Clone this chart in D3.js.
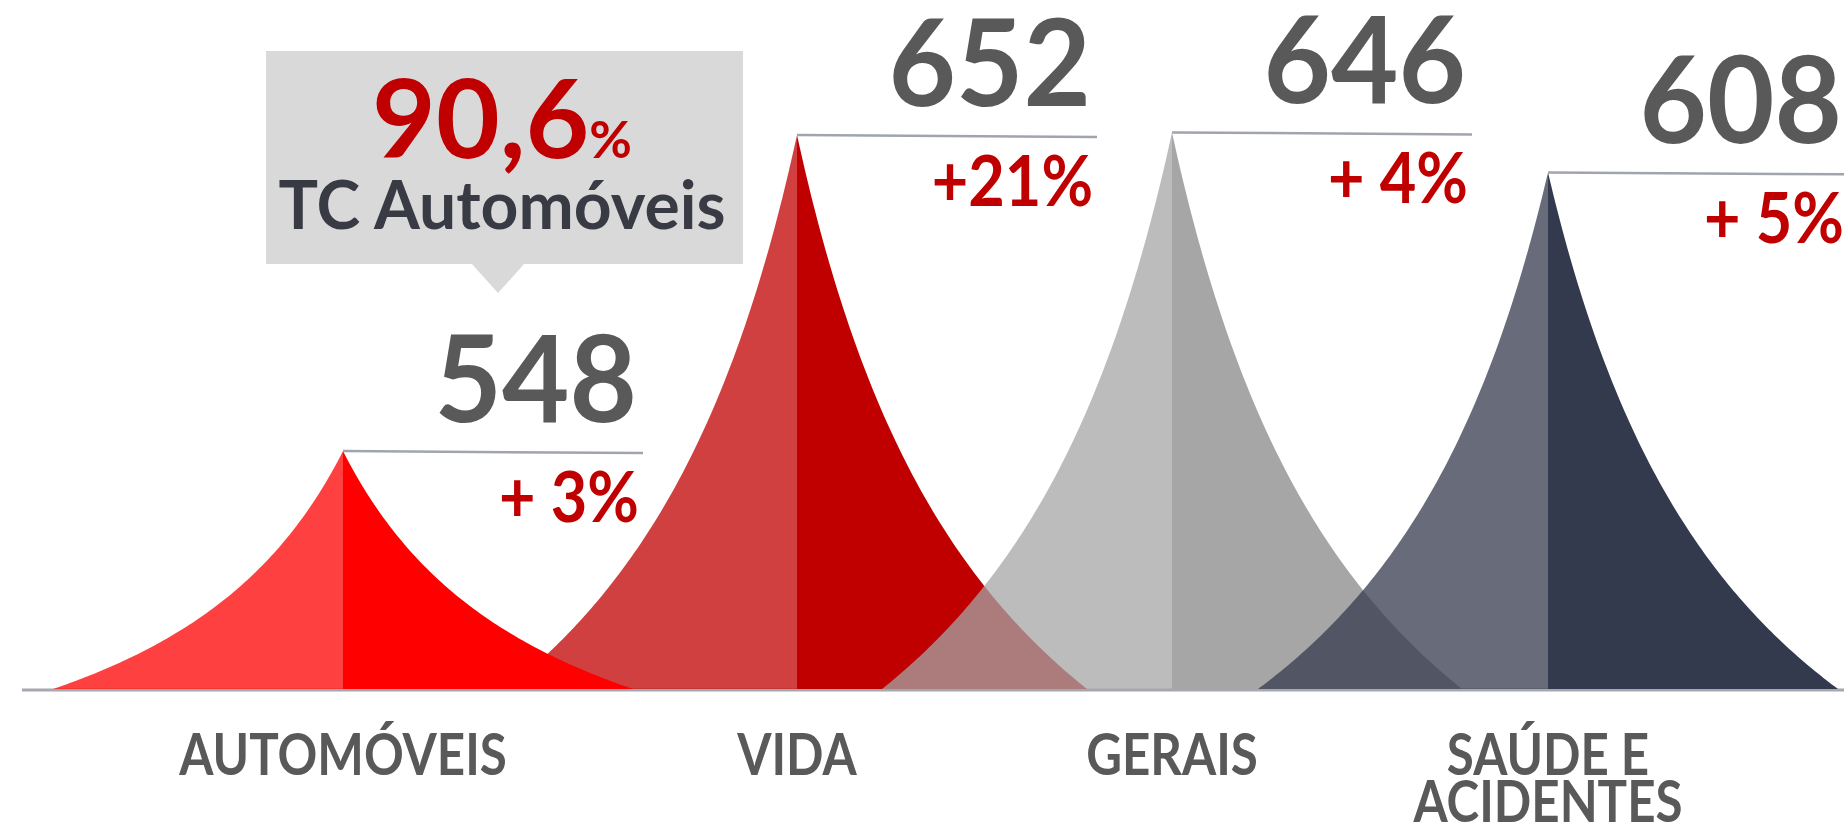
<!DOCTYPE html>
<html>
<head>
<meta charset="utf-8">
<script src="https://cdn.jsdelivr.net/npm/d3@7/dist/d3.min.js"></script>
<style>
    html, body { margin: 0; padding: 0; background: #fff; }
    svg { display: block; font-family: Lato, 'Open Sans', sans-serif; font-weight: 700; }
</style>
</head>
<body>
<div id="container"></div>
<script>
// Chart data
var categories = ['AUTOMÓVEIS', 'VIDA', 'GERAIS', 'SAÚDE E\nACIDENTES'];
var premiums = [548, 652, 646, 608];
var growth = [3, 21, 4, 5];
// peak level as drawn in the picture (Automóveis is drawn lower than its value)
var peakLevels = [280, 652, 655, 608];
var colors = ['#ff0000', '#c00000', '#a6a6a6', '#343a4e'];

// Callout
var calloutValue = '90,6';
var calloutLabel = 'TC Automóveis';

// Size variables
var width = 1844;
var height = 826;
var baseY = 689;
var halfWidth = 290;
var lineLength = 300;

var svg = d3.select('#container')
    .append('svg')
    .attr('width', width)
    .attr('height', height);

// Scales
var xScale = d3.scaleOrdinal()
    .domain(categories)
    .range([343, 797, 1172, 1548]);

var yScale = d3.scaleLinear()
    .domain([0, 652])
    .range([baseY, 135]);

// peak profile: height fraction at a relative distance t from the centre
var profile = (t) => (1 - t) / (1 + 1.4 * t);
var steps = d3.range(0, 1.0001, 0.01);

var line = d3.line()
    .x((d) => d[0])
    .y((d) => d[1]);

function halfPeak(i, side) {
    var cx = xScale(categories[i]);
    var top = yScale(peakLevels[i]);
    var pts = steps.map((t) => [cx + side * t * halfWidth, baseY - (baseY - top) * profile(t)]);
    pts.push([cx, baseY]);
    return line(pts) + 'Z';
}

// narrower text, the original uses a condensed face
function condensed(x, y, k) {
    return `translate(${x}, ${y}) scale(${k}, 1)`;
}

// baseline
svg.append('line')
    .attr('x1', 22)
    .attr('x2', width)
    .attr('y1', baseY + 1)
    .attr('y2', baseY + 1)
    .style('stroke', '#a5a8b0')
    .style('stroke-width', 3);

// Draw the peaks, Automóveis on top
var order = [1, 2, 3, 0];
var peaks = svg.selectAll('g.peak')
    .data(order)
    .enter()
    .append('g')
    .attr('class', 'peak');

peaks.append('path')
    .attr('d', (i) => halfPeak(i, -1))
    .style('fill', (i) => colors[i])
    .style('fill-opacity', 0.75);

peaks.append('path')
    .attr('d', (i) => halfPeak(i, 1))
    .style('fill', (i) => colors[i]);

// value lines and labels
var labels = svg.selectAll('g.label')
    .data(premiums)
    .enter()
    .append('g')
    .attr('class', 'label');

labels.append('line')
    .attr('x1', (d, i) => xScale(categories[i]))
    .attr('x2', (d, i) => xScale(categories[i]) + lineLength)
    .attr('y1', (d, i) => yScale(peakLevels[i]))
    .attr('y2', (d, i) => yScale(peakLevels[i]) + 2)
    .style('stroke', '#a0a4ae')
    .style('stroke-width', 2.5);

labels.append('text')
    .attr('transform', (d, i) => condensed(xScale(categories[i]) + lineLength - 6, yScale(peakLevels[i]) - 29, 0.97))
    .attr('text-anchor', 'end')
    .style('font-size', '120px')
    .style('fill', '#595959')
    .text((d) => d);

labels.append('text')
    .attr('transform', (d, i) => condensed(xScale(categories[i]) + lineLength - 4, yScale(peakLevels[i]) + 71, 0.9))
    .attr('text-anchor', 'end')
    .style('font-size', '70px')
    .style('fill', '#c00000')
    .text((d, i) => (growth[i] < 10 ? '+ ' : '+') + growth[i] + '%');

// category names
var names = svg.selectAll('text.category')
    .data(categories)
    .enter()
    .append('text')
    .attr('class', 'category')
    .attr('transform', (d) => condensed(xScale(d), 775, 0.85))
    .attr('text-anchor', 'middle')
    .style('font-size', '58px')
    .style('fill', '#595959');

names.selectAll('tspan')
    .data((d) => d.split('\n'))
    .enter()
    .append('tspan')
    .attr('x', 0)
    .attr('dy', (d, i) => i ? 47 : 0)
    .text((d) => d);

// callout box
svg.append('rect')
    .attr('x', 266)
    .attr('y', 51)
    .attr('width', 477)
    .attr('height', 213)
    .style('fill', '#d9d9d9');

svg.append('path')
    .attr('d', 'M471,263L525,263L498,293Z')
    .style('fill', '#d9d9d9');

var big = svg.append('text')
    .attr('x', 502)
    .attr('y', 158)
    .attr('text-anchor', 'middle')
    .style('fill', '#c00000');

big.append('tspan')
    .style('font-size', '110px')
    .text(calloutValue);

big.append('tspan')
    .style('font-size', '52px')
    .text('%');

svg.append('text')
    .attr('x', 502)
    .attr('y', 229)
    .attr('text-anchor', 'middle')
    .style('font-size', '66px')
    .style('fill', '#383b44')
    .text(calloutLabel);
</script>
</body>
</html>
